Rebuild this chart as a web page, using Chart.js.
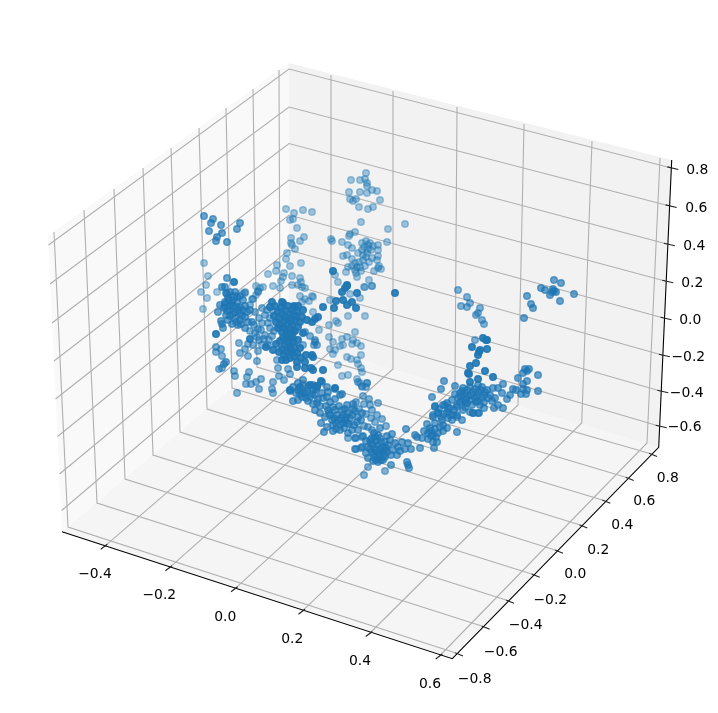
<!DOCTYPE html>
<html>
<head>
<meta charset="utf-8">
<title>3D scatter</title>
<script src="https://cdn.jsdelivr.net/npm/chart.js@4/dist/chart.umd.min.js"></script>
<style>
  html, body { margin: 0; padding: 0; background: #fff; }
  canvas { display: block; }
</style>
</head>
<body>
<canvas id="chart" width="718" height="713"></canvas>
<script>
// everything below is in the projected plane of the picture (0..718, 0..713)
const xTicks = ["\u22120.4", "\u22120.2", "0.0", "0.2", "0.4", "0.6"];
const yTicks = ["\u22120.8", "\u22120.6", "\u22120.4", "\u22120.2", "0.0", "0.2", "0.4", "0.6", "0.8"];
const zTicks = ["0.8", "0.6", "0.4", "0.2", "0.0", "\u22120.2", "\u22120.4", "\u22120.6"];

// where each tick sits on its axis line
const xTickAt = [[104, 546.8], [168.7, 568.3], [234.3, 589.3], [301.7, 611.7], [369, 634], [439, 656.5]];
const yTickAt = [[455, 652.7], [481.7, 626], [506, 600], [531.7, 574], [555, 550], [579.3, 524.7], [602.3, 500], [625.7, 477.3], [649, 453.3]];
const zTickAt = [[670.3, 167.7], [668.6, 205.7], [666.9, 244], [665.2, 281], [663.5, 318], [661.9, 355], [660.3, 391], [658.7, 426]];

// tick label centres
const xLabelAt = [[95, 574], [159.3, 595.7], [225.3, 617], [292.3, 639], [360, 661], [430, 684]];
const yLabelAt = [[474.7, 679.3], [500.7, 652], [525.7, 625], [550.3, 600], [575.3, 574], [598.3, 550], [622.3, 525.3], [644.3, 501.7], [667.7, 478]];
const zLabelAt = [[697.3, 170], [696.3, 208], [694.3, 246], [692.3, 283.3], [690.3, 320.3], [688.3, 357.7], [686.7, 393.3], [684.7, 427.7]];

// grid line ends on the walls
const xGridTop = [[331, 75], [393, 91], [457, 107], [524, 124], [592, 141], [660, 158]];
const xGridBack = [[331, 351], [393, 369], [455, 387], [518, 405], [581.7, 423], [647, 443]];
const yGridTop = [[54, 232], [84, 210], [114, 189], [143, 168], [171, 148], [199, 128], [226, 108], [253, 89], [279, 70]];
const yGridBack = [[68, 527], [97, 503], [125, 479], [153, 455], [180, 432], [207, 409], [232, 388], [257, 367], [280, 347]];
const zGridLeft = [[48.5, 245], [50, 284], [52, 323], [54, 361], [55.5, 399], [57.5, 436.5], [59.5, 474], [61.7, 510.5]];
const zGridCorner = [[289, 69], [289, 107], [289, 143.5], [289, 180], [289, 215], [289, 250], [289, 284], [289, 317]];

// panes and axis lines
const leftPane = [[48, 236], [288.5, 63], [288.5, 339], [62, 531.7]];
const backPane = [[288.5, 63], [671.7, 160], [658.7, 447.3], [288.5, 339]];
const floorPane = [[62, 531.7], [288.5, 339], [658.7, 447.3], [452.3, 658.7]];
const axisLine = [[62, 531.7], [452.3, 658.7], [658.7, 447.3], [671.7, 160]];

// points, grouped by how faded they look
const farPoints = [
  [366,173],[351,180],[360,180],[365,179],[367,183],[367,186],[349,192],[360,192],[367,193],[372,190],[377,191],
  [350,199],[353,201],[356,199],[380,200],[359,207],[368,209],[373,207],[312,212],[361,222],[405,224],[388,229],
  [355,232],[350,234],[349,236],[331,239],[332,241],[342,242],[348,245],[352,248],[362,243],[366,241],[368,245],
  [373,246],[378,245],[387,242],[362,250],[368,249],[378,250],[363,255],[367,253],[343,256],[347,255],[378,256],
  [352,259],[363,260],[377,260],[355,263],[348,267],[357,267],[360,267],[365,266],[379,266],[378,268],[381,269],
  [374,271],[346,272],[356,273],[357,277],[335,275],[338,282],[369,280],[372,286],[364,287],
  [370,243],[364,247],[371,250],[358,253],[366,257],[372,258],[359,262],[352,266],[369,262],[355,270],[361,271],
  [286,209],[294,213],[303,210],[290,220],[293,219],[297,228],[291,238],[304,237],[300,241],[291,243],[292,245],
  [295,249],[287,253],[286,259],[301,263],[277,265],[290,266],[276,271],[268,274],[284,273],[283,277],[292,276],
  [281,281],[300,278],[301,282],[292,285],[298,285],[302,287],[305,288],[280,288],[273,286],[256,286],[263,287],
  [260,288],[258,291],[245,292],[242,294],[300,296],[305,299],[312,296],[302,302],[309,301],[252,299],[256,295],
  [204,263],[208,276],[206,285],[201,292],[207,298],[203,309],[217,292],
  [365,287],[372,286],[350,294],[360,298],[330,300],[365,316],[348,316],[336,321],[338,323],[329,325],[313,312],
  [313,297],[355,332],[319,330],[329,337],[347,337],[342,339],[353,340],[333,342],[357,343],[352,344],[340,346],
  [343,345],[361,346],[330,349],[335,350],[333,354],[361,355],[347,357],[351,359],[357,360],[358,364],[338,365],
  [361,368],[362,372],[348,375],[342,376],[357,379],[360,383],[367,383],[362,387]
];
const midPoints = [
  [253,299],[245,293],[258,292],[262,308],[265,315],[270,318],[262,323],[258,329],[270,328],[265,335],[257,337],
  [259,340],[253,345],[262,345],[258,351],[239,343],[245,349],[240,353],[248,356],[257,361],[216,347],[221,349],
  [216,352],[222,356],[219,369],[222,368],[234,371],[235,376],[249,372],[247,377],[246,384],[251,384],[256,382],
  [261,379],[259,389],[237,393],[272,389],[273,393],[273,382],[279,376],[277,360],[278,368],[284,380],[288,369],
  [290,374],[315,340],[314,345],[315,342],[317,345],
  [255,312],[259,318],[268,323],[274,331],[261,330],[269,340],[255,333],[248,344],[264,339],[273,311],
  [250,305],[267,310],[254,325],[272,336],[250,331],[268,345],[305,332],[310,336],[303,345],
  [458,290],[467,297],[470,303],[461,306],[467,307],[480,308],[478,313],[476,315],[482,320],[484,324],[475,340],
  [356,402],[363,396],[369,399],[370,405],[378,403],[372,410],[377,415],[375,422],[382,419],[386,426],[368,427],
  [348,438],[356,438],[362,437],[355,449],[361,448],[368,467],[364,475],[385,471],[358,382],[367,383],[362,386],[366,387],
  [364,404],[359,409],[366,414],[371,418],[364,426],[372,430]
];
const nearPoints = [
  [204,216],[213,219],[211,223],[221,225],[209,231],[222,233],[217,237],[216,241],[227,242],[240,223],[237,229],
  [227,278],[222,287],[225,287],[226,293],[230,292],[235,292],[237,297],[233,300],[225,307],[230,306],[237,307],
  [225,304],[224,308],[232,303],[237,302],[240,307],[230,310],[235,312],[240,313],[230,316],[235,318],[240,320],
  [245,317],[238,325],[245,328],[243,310],[227,294],[225,302],[250,310],[252,322],[221,321],[223,328],[222,324],
  [245,306],[226,362],[224,364],
  [228,298],[233,306],[227,311],[233,314],[238,310],[242,316],[228,320],[236,322],[241,324],[229,300],[234,296],
  [220,305],[247,312],[248,322],[243,300],[218,312],[226,315],[232,324],[240,296],
  [298,383],[303,385],[293,387],[308,387],[322,382],[290,391],[298,390],[305,393],[313,390],[302,397],[310,397],
  [315,395],[322,393],[328,392],[335,389],[293,401],[298,400],[317,403],[323,398],[330,402],[340,395],[342,394],
  [328,410],[335,410],[342,410],[347,405],[353,404],[330,415],[337,415],[343,415],[348,413],[332,420],[338,420],
  [345,420],[350,418],[333,425],[340,425],[347,423],[321,423],[324,432],[340,430],[352,430],[357,422],[362,413],
  [358,430],[320,413],[315,410],[361,420],
  [307,391],[303,393],[300,394],[312,394],[318,399],[308,401],[313,404],[326,406],[333,407],[339,406],[345,409],
  [329,413],[334,418],[341,418],[346,417],[336,423],[343,423],[349,424],[352,415],[355,411],[344,428],[336,429],
  [296,393],[306,398],[316,389],[327,397],[335,399],[320,406],[325,417],[353,409],[358,417],[354,425],[348,433],
  [333,431],[327,427],[303,380],[313,385],[327,387],
  [370,440],[375,437],[380,438],[385,442],[368,447],[373,445],[378,445],[383,447],[388,445],[372,452],[377,452],
  [382,452],[387,452],[375,457],[380,457],[385,457],[373,461],[378,462],[383,460],[391,465],[355,438],[363,436],
  [374,433],[380,428],[392,434],[356,449],[362,447],[393,450],[398,447],[402,442],[408,443],[397,455],[405,449],
  [411,449],[420,448],[406,429],[407,462],[408,465],[409,468],
  [371,443],[376,441],[381,442],[386,448],[370,449],[375,449],[380,449],[385,450],[374,454],[379,454],[384,455],
  [376,460],[381,460],[372,438],[378,435],[366,441],
  [390,440],[391,455],[366,453],[368,458],[387,436],[395,443],[400,451],
  [433,417],[438,413],[430,428],[435,423],[442,420],[447,412],[450,415],[457,415],[428,433],[433,435],[438,433],
  [417,437],[415,435],[422,438],[428,439],[433,442],[437,442],[434,448],[447,428],[457,432],[443,405],[450,408],
  [462,420],[473,413],[478,413],[457,407],[465,403],[435,407],[443,425],
  [431,431],[435,429],[440,427],[436,437],[441,417],[444,414],[448,418],[454,410],[439,409],
  [427,424],[424,431],[443,431],[431,436],[452,420],
  [554,280],[561,283],[541,288],[545,290],[553,289],[556,292],[550,295],[574,294],[527,296],[560,301],[531,304],
  [533,308],[524,318],[552,292],[554,291],
  [529,369],[525,369],[527,371],[523,373],[518,378],[538,375],[527,381],[523,384],[503,384],[513,389],[516,390],
  [523,389],[527,390],[538,391],[510,395],[521,394],[526,394],[507,399],[503,408],[494,408],[498,405],[502,393],
  [498,388],[493,388],
  [463,388],[470,387],[478,385],[482,387],[460,393],[465,393],[473,392],[478,392],[485,392],[490,395],[495,398],
  [458,398],[463,400],[470,400],[475,398],[482,398],[488,398],[457,405],[465,407],[472,405],[480,405],[470,412],
  [479,413],[473,413],[455,386],[444,381],[441,389],[432,397],[435,406],[447,403],[445,405],[448,408],[438,413],
  [433,415],[453,415],[457,417],[463,410],
  [467,390],[475,389],[481,390],[461,396],[468,396],[477,396],[484,395],[460,402],[467,403],[476,402],[484,402],
  [462,391],[471,395],[478,401],[466,399],[487,390],[492,401],[484,408],[452,400],[455,394]
];
const frontPoints = [
  [234,282],[272,302],[282,302],[295,307],[216,334],[250,339],[266,347],
  [270,307],[283,303],[294,306],[278,312],[285,310],[292,310],[297,312],[302,317],[307,320],[279,318],[285,317],
  [290,318],[295,320],[280,325],[287,325],[292,325],[298,327],[282,332],[287,332],[293,332],[283,338],[288,338],
  [293,338],[298,340],[285,345],[290,345],[295,347],[273,350],[279,352],[287,352],[292,352],[297,353],[290,358],
  [297,362],[305,362],[297,367],[305,368],[311,368],[290,390],[300,387],[310,385],[317,387],
  [275,306],[281,308],[288,306],[290,314],[282,314],[276,322],[284,321],[291,321],[296,316],[284,328],[290,329],
  [295,331],[286,335],[291,335],[288,342],[293,342],[282,349],[290,349],[284,355],[294,356],[301,358],[286,360],
  [274,316],[300,322],[303,333],[278,328],[300,348],[276,344],[280,341],[306,355],[282,360],[298,306],[303,310],
  [395,293],[342,292],[347,286],[357,293],[343,300],[352,302],[347,305],[356,308],[336,301],[323,307],[334,308],
  [318,317],[315,319],[312,322],[333,271],[347,285],[345,288],
  [323,370],[313,370],[321,381],[317,386],[335,388],[312,355],[313,357],
  [483,338],[486,340],[487,340],[472,347],[480,350],[479,352],[487,349],[478,355],[476,363],[470,366],[468,373],
  [469,374],[485,371],[493,377],[478,379],[470,382]
];

const GRID = "#b0b0b0";
const BLUE = "31,119,180";

function xy(pts) {
  return pts.map((p) => ({ x: p[0], y: p[1] }));
}

function pane(pts, color) {
  return {
    type: "scatter", data: xy(pts.concat([pts[0]])), showLine: true, fill: "shape",
    backgroundColor: color, borderColor: color, borderWidth: 0, pointRadius: 0, tension: 0, order: 40,
  };
}

function line(pts, color, width, order) {
  return {
    type: "scatter", data: xy(pts), showLine: true, fill: false,
    borderColor: color, borderWidth: width, pointRadius: 0, tension: 0, order: order,
  };
}

function dots(pts, alpha, order) {
  return {
    type: "scatter", data: xy(pts), showLine: false,
    backgroundColor: `rgba(${BLUE},${alpha})`, borderColor: `rgba(${BLUE},${alpha})`,
    borderWidth: 1.4, pointRadius: 3.3, order: order,
  };
}

let datasets = [
  pane(leftPane, "#f9f9f9"),
  pane(backPane, "#f2f2f2"),
  pane(floorPane, "#f5f5f5"),
];

// SEE: grid on the walls and the floor
xTickAt.forEach((t, i) => {
  datasets.push(line([xGridTop[i], xGridBack[i], t], GRID, 1.1, 30));
  datasets.push(line([[t[0] - 3.3, t[1] + 2.5], [t[0] + 3.3, t[1] - 2.5]], "#222", 1.1, 20));
});
yTickAt.forEach((t, i) => {
  datasets.push(line([yGridTop[i], yGridBack[i], t], GRID, 1.1, 30));
  datasets.push(line([t, [t[0] + 8, t[1] + 3.2]], "#222", 1.1, 20));
});
zTickAt.forEach((t, i) => {
  datasets.push(line([zGridLeft[i], zGridCorner[i], t], GRID, 1.1, 30));
  datasets.push(line([[t[0] - 3, t[1] - 0.8], [t[0] + 8, t[1] + 1.8]], "#222", 1.1, 20));
});
datasets.push(line(axisLine, "#000", 1.1, 20));

datasets.push(dots(farPoints, 0.4, 13));
datasets.push(dots(midPoints, 0.55, 12));
datasets.push(dots(nearPoints, 0.66, 11));
datasets.push(dots(frontPoints, 0.9, 10));

const tickText = {
  id: "tickText",
  afterDraw(chart) {
    const ctx = chart.ctx;
    ctx.save();
    ctx.font = '13.9px "DejaVu Sans"';
    ctx.fillStyle = "#000";
    ctx.textAlign = "center";
    ctx.textBaseline = "middle";
    const groups = [[xTicks, xLabelAt], [yTicks, yLabelAt], [zTicks, zLabelAt]];
    groups.forEach(([labels, at]) => {
      labels.forEach((label, i) => {
        ctx.fillText(label, chart.scales.x.getPixelForValue(at[i][0]), chart.scales.y.getPixelForValue(at[i][1]));
      });
    });
    ctx.restore();
  },
};

new Chart(document.getElementById("chart"), {
  type: "scatter",
  data: { datasets: datasets },
  options: {
    responsive: false,
    animation: false,
    layout: { padding: 0, autoPadding: false },
    plugins: { legend: { display: false }, tooltip: { enabled: false } },
    scales: {
      x: { type: "linear", display: false, min: 0, max: 718 },
      y: { type: "linear", display: false, min: 0, max: 713, reverse: true },
    },
  },
  plugins: [tickText],
});
</script>
</body>
</html>
